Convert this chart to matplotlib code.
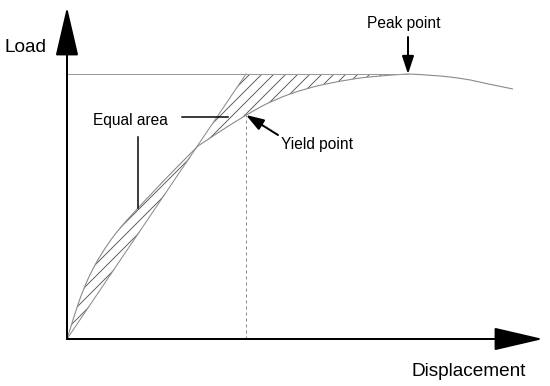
"""Equal-area yield point sketch on a load-displacement curve."""
import matplotlib
matplotlib.use("Agg")
import matplotlib.pyplot as plt
from matplotlib.path import Path
from matplotlib.patches import PathPatch
import numpy as np

plt.rcParams["font.family"] = ["Liberation Sans", "DejaVu Sans"]
plt.rcParams["hatch.linewidth"] = 0.9

# ---------------------------------------------------------------------------
# Data (arbitrary units)
# ---------------------------------------------------------------------------
DISP = [0.00, 0.08, 0.16, 0.26, 0.38, 0.51, 0.71, 0.88, 1.06, 1.31, 1.55,
        1.79, 2.06, 2.40, 2.73, 3.06, 3.41, 3.66, 4.00, 4.16, 4.46]
LOAD = [0.00, 0.26, 0.49, 0.71, 0.91, 1.09, 1.31, 1.49, 1.68, 1.93, 2.09,
        2.24, 2.39, 2.51, 2.58, 2.63, 2.65, 2.64, 2.60, 2.56, 2.50]

D_YIELD = 1.79     # yield displacement (bilinear corner)
D_CROSS = 1.31     # where secant line crosses the curve
D_PEAK = 3.41
P_PEAK = 2.65
P_YIELD = 2.24

GREY = "#8a8a8a"
HATCH = "#555555"


def smooth(points):
    """Quadratic bezier through the end points, using inner points as controls."""
    verts = [points[0]]
    codes = [Path.MOVETO]
    if len(points) == 2:
        return verts + [points[1]], codes + [Path.LINETO]
    for i in range(1, len(points) - 1):
        if i == len(points) - 2:
            end = points[i + 1]
        else:
            end = ((points[i][0] + points[i + 1][0]) / 2,
                   (points[i][1] + points[i + 1][1]) / 2)
        verts += [points[i], end]
        codes += [Path.CURVE3, Path.CURVE3]
    return verts, codes


pts = list(zip(DISP, LOAD))
i_cross = DISP.index(D_CROSS)
i_peak = DISP.index(D_PEAK)
seg_low = pts[:i_cross + 1]
seg_mid = pts[i_cross:i_peak + 1]
seg_end = pts[i_peak:]

fig = plt.figure(figsize=(550 / 72, 386 / 72), dpi=72)
ax = fig.add_axes([0, 0, 1, 1])
ax.set_xlim(-0.67, 4.83)
ax.set_ylim(-0.47, 3.39)
ax.axis("off")

# hatched equal areas
v, c = smooth(seg_low)
v += [(0, 0), (0, 0)]
c += [Path.LINETO, Path.CLOSEPOLY]
ax.add_patch(PathPatch(Path(v, c), facecolor="none", edgecolor=HATCH,
                       hatch="//", lw=0))

v, c = smooth(seg_mid[::-1])
v += [(D_YIELD, P_PEAK), (D_PEAK, P_PEAK), (D_PEAK, P_PEAK)]
c += [Path.LINETO, Path.LINETO, Path.CLOSEPOLY]
ax.add_patch(PathPatch(Path(v, c), facecolor="none", edgecolor=HATCH,
                       hatch="//", lw=0))

# curve, secant and peak level
for seg in (seg_low, seg_mid, seg_end):
    v, c = smooth(seg)
    ax.add_patch(PathPatch(Path(v, c), facecolor="none", edgecolor=GREY,
                           lw=1.1))
ax.plot([0, D_YIELD], [0, P_PEAK], color=GREY, lw=1.0)
ax.plot([0, D_PEAK], [P_PEAK, P_PEAK], color="#999999", lw=1.0)
ax.plot([D_YIELD, D_YIELD], [0, P_YIELD], color=GREY, lw=1.0,
        linestyle=(0, (3, 3)))

# axes with arrow heads
axis_arrow = dict(arrowstyle="-|>,head_length=2.15,head_width=0.5",
                  mutation_scale=20, lw=2, color="black",
                  shrinkA=0, shrinkB=0)
ax.annotate("", xy=(0, 3.32), xytext=(0, 0), arrowprops=axis_arrow)
ax.annotate("", xy=(4.76, 0), xytext=(0, 0), arrowprops=axis_arrow)

ax.text(-0.41, 2.87, "Load", fontsize=19, ha="center", va="baseline")
ax.text(4.015, -0.37, "Displacement", fontsize=19, ha="center",
        va="baseline")

# annotations
small_arrow = dict(arrowstyle="-|>,head_length=1.5,head_width=0.5",
                   mutation_scale=10, lw=2, color="black",
                   shrinkA=0, shrinkB=0)
ax.annotate("", xy=(D_PEAK, P_PEAK), xytext=(D_PEAK, 3.02),
            arrowprops=small_arrow)
ax.text(3.365, 3.11, "Peak point", fontsize=15.5, ha="center",
        va="baseline")

ax.annotate("", xy=(D_YIELD, P_YIELD), xytext=(2.11, 2.04),
            arrowprops=small_arrow)
ax.text(2.14, 1.90, "Yield point", fontsize=15.5, ha="left", va="baseline")

ax.text(0.635, 2.14, "Equal area", fontsize=15.5, ha="center",
        va="baseline")
ax.plot([1.15, 1.61], [2.22, 2.22], color="black", lw=1.5)
ax.plot([0.71, 0.71], [2.02, 1.31], color="black", lw=1.5)

fig.savefig("out.png", dpi=72)
